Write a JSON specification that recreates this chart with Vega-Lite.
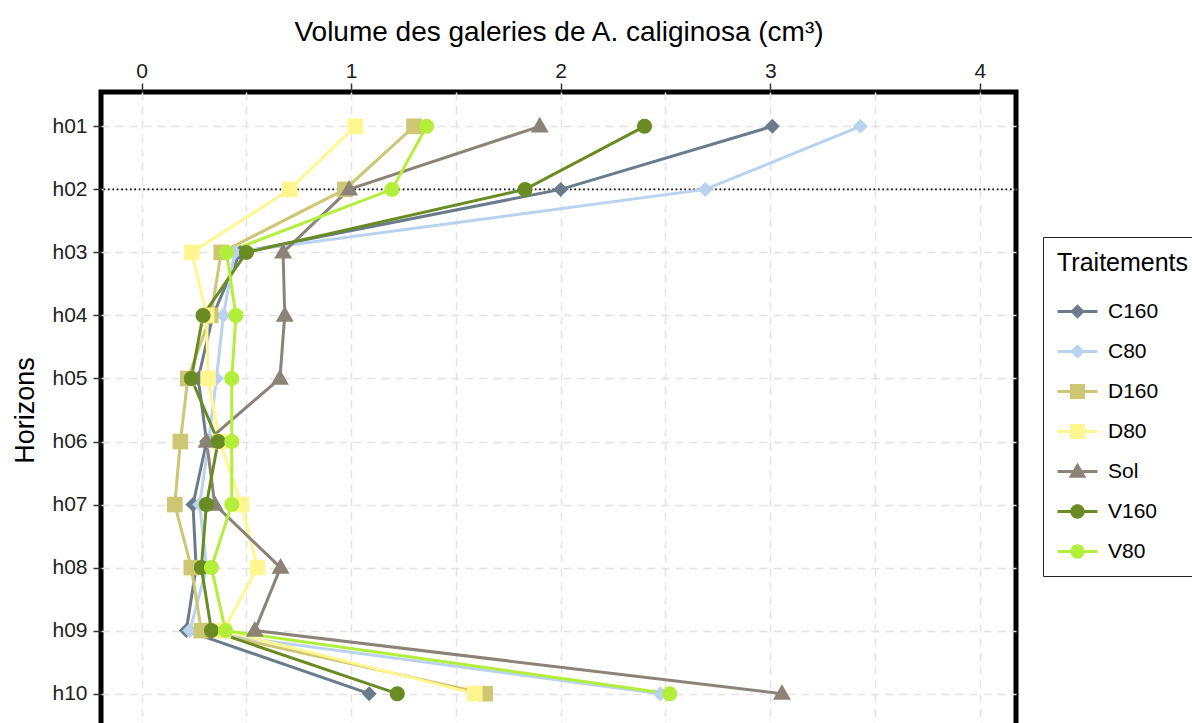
{
  "$schema": "https://vega.github.io/schema/vega-lite/v6.json",
  "width": 915,
  "height": 636,
  "autosize": {"type": "none"},
  "padding": {"left": 101, "top": 92, "right": 180, "bottom": 0},
  "background": "white",
  "config": {
    "view": {"stroke": "black", "strokeWidth": 5},
    "font": "Liberation Sans"
  },
  "data": {"values": [
    {"T": "C160", "H": "h01", "v": 3.01}, {"T": "C160", "H": "h02", "v": 2.00}, {"T": "C160", "H": "h03", "v": 0.47}, {"T": "C160", "H": "h04", "v": 0.34}, {"T": "C160", "H": "h05", "v": 0.27}, {"T": "C160", "H": "h06", "v": 0.31}, {"T": "C160", "H": "h07", "v": 0.245}, {"T": "C160", "H": "h08", "v": 0.26}, {"T": "C160", "H": "h09", "v": 0.213}, {"T": "C160", "H": "h10", "v": 1.086},
    {"T": "C80", "H": "h01", "v": 3.43}, {"T": "C80", "H": "h02", "v": 2.69}, {"T": "C80", "H": "h03", "v": 0.445}, {"T": "C80", "H": "h04", "v": 0.39}, {"T": "C80", "H": "h05", "v": 0.357}, {"T": "C80", "H": "h06", "v": 0.32}, {"T": "C80", "H": "h07", "v": 0.277}, {"T": "C80", "H": "h08", "v": 0.31}, {"T": "C80", "H": "h09", "v": 0.23}, {"T": "C80", "H": "h10", "v": 2.475},
    {"T": "D160", "H": "h01", "v": 1.30}, {"T": "D160", "H": "h02", "v": 0.97}, {"T": "D160", "H": "h03", "v": 0.38}, {"T": "D160", "H": "h04", "v": 0.33}, {"T": "D160", "H": "h05", "v": 0.22}, {"T": "D160", "H": "h06", "v": 0.185}, {"T": "D160", "H": "h07", "v": 0.158}, {"T": "D160", "H": "h08", "v": 0.237}, {"T": "D160", "H": "h09", "v": 0.285}, {"T": "D160", "H": "h10", "v": 1.64},
    {"T": "D80", "H": "h01", "v": 1.02}, {"T": "D80", "H": "h02", "v": 0.707}, {"T": "D80", "H": "h03", "v": 0.24}, {"T": "D80", "H": "h04", "v": 0.31}, {"T": "D80", "H": "h05", "v": 0.317}, {"T": "D80", "H": "h06", "v": 0.373}, {"T": "D80", "H": "h07", "v": 0.476}, {"T": "D80", "H": "h08", "v": 0.553}, {"T": "D80", "H": "h09", "v": 0.39}, {"T": "D80", "H": "h10", "v": 1.59},
    {"T": "Sol", "H": "h01", "v": 1.90}, {"T": "Sol", "H": "h02", "v": 0.99}, {"T": "Sol", "H": "h03", "v": 0.675}, {"T": "Sol", "H": "h04", "v": 0.683}, {"T": "Sol", "H": "h05", "v": 0.66}, {"T": "Sol", "H": "h06", "v": 0.31}, {"T": "Sol", "H": "h07", "v": 0.349}, {"T": "Sol", "H": "h08", "v": 0.663}, {"T": "Sol", "H": "h09", "v": 0.54}, {"T": "Sol", "H": "h10", "v": 3.056},
    {"T": "V160", "H": "h01", "v": 2.40}, {"T": "V160", "H": "h02", "v": 1.83}, {"T": "V160", "H": "h03", "v": 0.50}, {"T": "V160", "H": "h04", "v": 0.293}, {"T": "V160", "H": "h05", "v": 0.237}, {"T": "V160", "H": "h06", "v": 0.365}, {"T": "V160", "H": "h07", "v": 0.309}, {"T": "V160", "H": "h08", "v": 0.285}, {"T": "V160", "H": "h09", "v": 0.333}, {"T": "V160", "H": "h10", "v": 1.22},
    {"T": "V80", "H": "h01", "v": 1.36}, {"T": "V80", "H": "h02", "v": 1.195}, {"T": "V80", "H": "h03", "v": 0.405}, {"T": "V80", "H": "h04", "v": 0.45}, {"T": "V80", "H": "h05", "v": 0.43}, {"T": "V80", "H": "h06", "v": 0.43}, {"T": "V80", "H": "h07", "v": 0.43}, {"T": "V80", "H": "h08", "v": 0.333}, {"T": "V80", "H": "h09", "v": 0.40}, {"T": "V80", "H": "h10", "v": 2.52}
  ]},
  "encoding": {
    "x": {"field": "v", "type": "quantitative"},
    "y": {"field": "H", "type": "ordinal"},
    "color": {"field": "T", "type": "nominal", "legend": null}
  },
  "layer": [
    {
      "data": {"values": [{"H": "h02"}]},
      "mark": {"type": "rule", "stroke": "black", "strokeWidth": 1.6, "strokeDash": [1.6, 2.8]},
      "encoding": {
        "x": null,
        "color": null,
        "y": {"field": "H", "type": "ordinal",
          "scale": {"type": "point", "padding": 0.545, "domain": ["h01","h02","h03","h04","h05","h06","h07","h08","h09","h10"]},
          "axis": {"title": "Horizons", "titleFontSize": 27, "titleFontWeight": "normal", "titleColor": "black", "titlePadding": 12,
            "labelFontSize": 21, "labelColor": "#222", "labelPadding": 6, "tickSize": 8, "tickWidth": 1.5, "tickColor": "#333",
            "domain": false, "grid": true, "gridDash": [8, 6], "gridColor": "#e2e2e2", "gridWidth": 1.5}
        }
      }
    },
    {
      "mark": {"type": "line", "strokeWidth": 3},
      "encoding": {
        "x": {"field": "v", "type": "quantitative",
          "scale": {"domain": [-0.194, 4.173], "nice": false, "zero": false},
          "axis": {"orient": "top", "title": "Volume des galeries de  A. caliginosa (cm³)", "titleFontSize": 28, "titleFontWeight": "normal", "titleColor": "black", "titlePadding": 14,
            "values": [0, 0.5, 1, 1.5, 2, 2.5, 3, 3.5, 4],
            "labelExpr": "datum.value % 1 === 0 ? format(datum.value, 'd') : ''",
            "labelFontSize": 21, "labelColor": "#222", "labelPadding": 2, "labelFlush": false,
            "tickSize": 9, "tickWidth": 1.5,
            "tickColor": {"condition": {"test": "datum.value % 1 !== 0", "value": "transparent"}, "value": "#333"},
            "domain": false, "grid": true, "gridDash": [8, 6], "gridColor": "#e2e2e2", "gridWidth": 1.5}
        },
        "order": {"field": "H"},
        "color": {"field": "T", "type": "nominal",
          "scale": {"domain": ["C160","C80","D160","D80","Sol","V160","V80"], "range": ["#6C7B8B","#B9D3EE","#CDC673","#FFF68F","#8B8378","#698B22","#B3EE3A"]},
          "legend": {"title": "Traitements", "orient": "none", "legendX": 942, "legendY": 145,
            "padding": 14, "strokeColor": "#222", "fillColor": "white",
            "titleFontSize": 25, "titleFontWeight": "normal", "titleColor": "black", "titlePadding": 25,
            "labelFontSize": 21, "labelColor": "black", "symbolSize": 400, "symbolOffset": 10, "labelOffset": 20, "rowPadding": 18,
            "encode": {"symbols": {"update": {
              "shape": {"signal": "(datum.value === 'C160' || datum.value === 'C80') ? 'M-2,-0.15H2V0.15H-2Z M0,-0.72L0.72,0L0,0.72L-0.72,0Z' : (datum.value === 'D160' || datum.value === 'D80') ? 'M-2,-0.15H2V0.15H-2Z M-0.75,-0.75H0.75V0.75H-0.75Z' : datum.value === 'Sol' ? 'M-2,-0.15H2V0.15H-2Z M0,-0.9L0.88,0.62H-0.88Z' : 'M-2,-0.15H2V0.15H-2Z M0.72,0A0.72,0.72,0,1,1,-0.72,0A0.72,0.72,0,1,1,0.72,0Z'"},
              "fill": {"scale": "color", "field": "value"},
              "strokeWidth": {"value": 0},
              "opacity": {"value": 1}
            }}}
          }}
      }
    },
    {
      "transform": [{"filter": "datum.T === 'C160' || datum.T === 'C80'"}],
      "mark": {"type": "point", "filled": true, "opacity": 1, "size": 400, "shape": "M0,-0.75L0.75,0L0,0.75L-0.75,0Z"}
    },
    {
      "transform": [{"filter": "datum.T === 'D160' || datum.T === 'D80'"}],
      "mark": {"type": "point", "filled": true, "opacity": 1, "size": 400, "shape": "M-0.78,-0.78H0.78V0.78H-0.78Z"}
    },
    {
      "transform": [{"filter": "datum.T === 'Sol'"}],
      "mark": {"type": "point", "filled": true, "opacity": 1, "size": 400, "shape": "M0,-0.95L0.9,0.62H-0.9Z"}
    },
    {
      "transform": [{"filter": "datum.T === 'V160' || datum.T === 'V80'"}],
      "mark": {"type": "point", "filled": true, "opacity": 1, "size": 400, "shape": "M0.75,0A0.75,0.75,0,1,1,-0.75,0A0.75,0.75,0,1,1,0.75,0Z"}
    }
  ]
}
